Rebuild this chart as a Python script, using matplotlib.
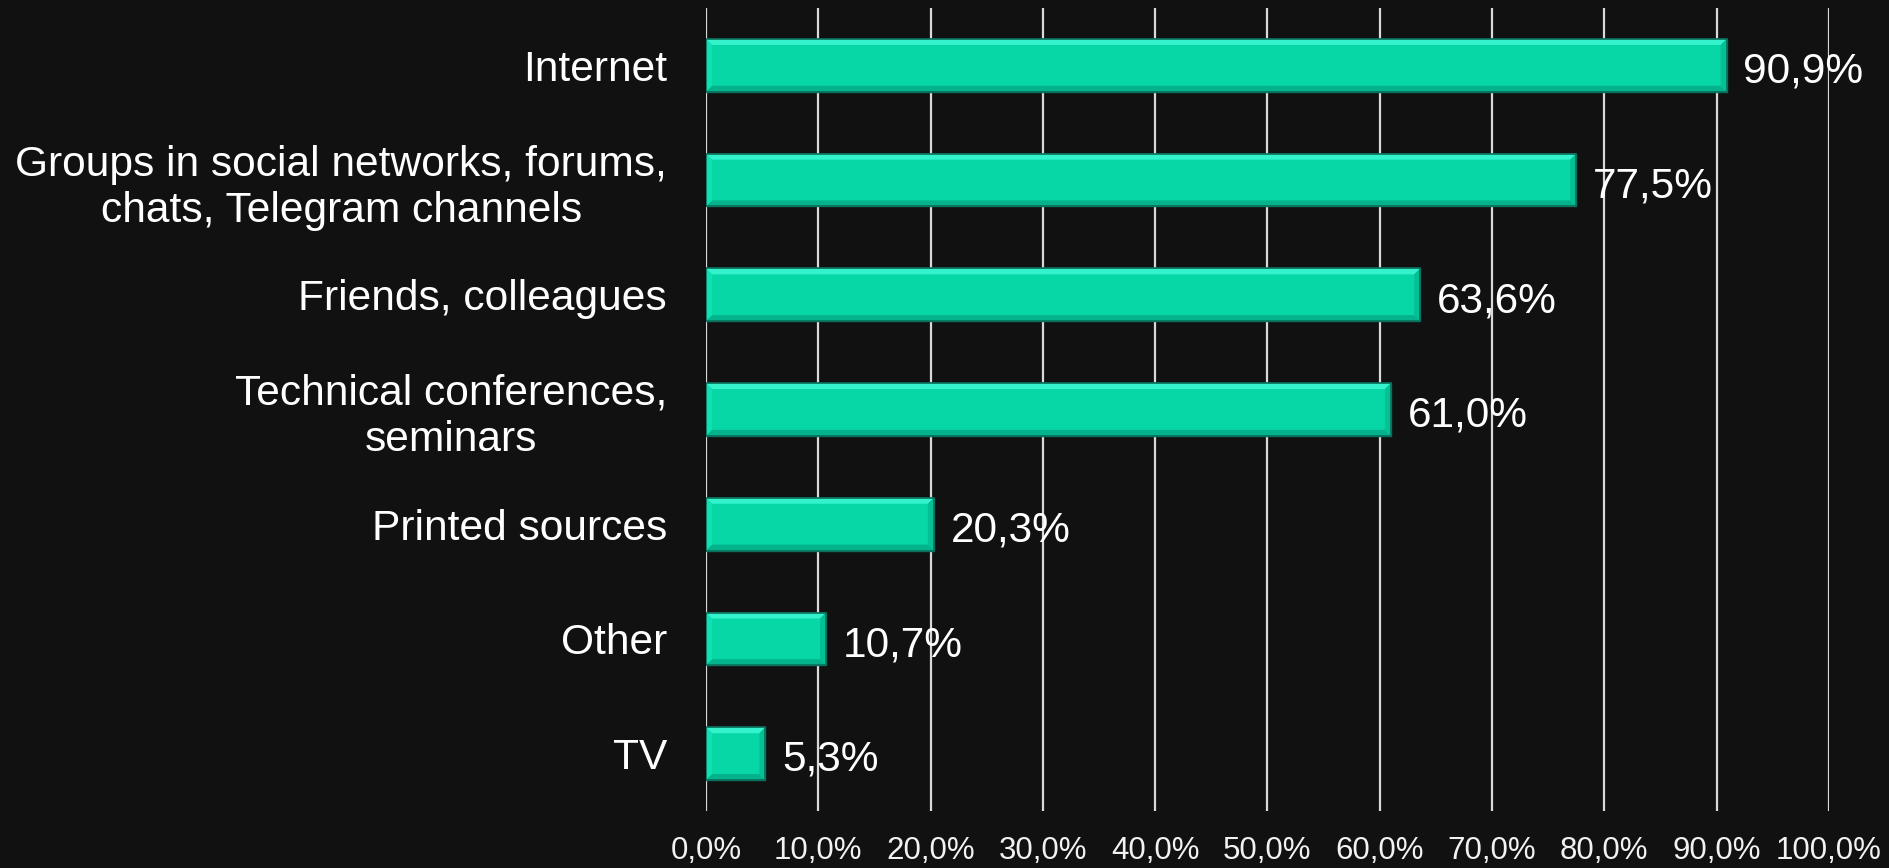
import numpy as np
import matplotlib
matplotlib.use("Agg")
import matplotlib.pyplot as plt
from matplotlib.patches import Polygon
from matplotlib.ticker import FuncFormatter

plt.rcParams['font.family'] = ['Liberation Sans', 'DejaVu Sans']

# sources of information, share of respondents (%)
categories = ["Internet",
              "Groups in social networks, forums,\nchats, Telegram channels",
              "Friends, colleagues",
              "Technical conferences,\nseminars",
              "Printed sources",
              "Other",
              "TV"]
values = [90.9, 77.5, 63.6, 61.0, 20.3, 10.7, 5.3]
xticks = np.arange(0, 101, 10)

bg = "#111111"
face = "#07d6a7"
top_c = "#33f2cc"
left_c = "#12dfb2"
right_c = "#05bf95"
bottom_c = "#04b28b"
edge_c = "#0a6f5b"

fig = plt.figure(figsize=(18.9, 8.68), dpi=100, facecolor=bg)
ax_l, ax_b, ax_w, ax_h = 0.3735, 0.0657, 0.5942, 0.9251
ax = fig.add_axes([ax_l, ax_b, ax_w, ax_h], facecolor=bg)

y = np.arange(len(categories))
bar_h = 0.46
ax.barh(y, values, height=bar_h, color=face, edgecolor=edge_c, linewidth=1, zorder=3)

# bevel widths, ~6 px converted to data units
bx = 6 * 100 / (ax_w * 1890)
by = 6 * 7 / (ax_h * 868)
for yi, v in zip(y, values):
    t, b = yi - bar_h / 2, yi + bar_h / 2
    bevels = [
        ([(0, t), (v, t), (v - bx, t + by), (bx, t + by)], top_c),
        ([(0, b), (v, b), (v - bx, b - by), (bx, b - by)], bottom_c),
        ([(0, t), (bx, t + by), (bx, b - by), (0, b)], left_c),
        ([(v, t), (v - bx, t + by), (v - bx, b - by), (v, b)], right_c),
    ]
    for pts, c in bevels:
        ax.add_patch(Polygon(pts, closed=True, facecolor=c, edgecolor='none', zorder=4))
    ax.add_patch(Polygon([(0, t), (v, t), (v, b), (0, b)], closed=True, fill=False,
                         edgecolor=edge_c, linewidth=1.2, zorder=5))
    ax.annotate(f"{v:.1f}%".replace('.', ','), (v, yi), xytext=(12, -12.5),
                textcoords='offset points', va='baseline', ha='left',
                fontsize=30.5, color='white', zorder=6)

ax.set_xlim(0, 100)
ax.set_ylim(6.5, -0.5)
ax.set_xticks(xticks)
ax.xaxis.set_major_formatter(FuncFormatter(lambda x, p: f"{x:.1f}%".replace('.', ',')))
ax.set_yticks(y)
ax.set_yticklabels(categories)
for lab in ax.get_yticklabels():
    lab.set_multialignment('center')
    lab.set_linespacing(1.2)

ax.tick_params(axis='y', length=0, pad=28, labelsize=30.6, labelcolor='white')
ax.tick_params(axis='x', length=0, pad=18, labelsize=22.5, labelcolor='#f2f2f2')
ax.grid(axis='x', color='#d9d9d9', linewidth=1.6, zorder=0)
ax.set_axisbelow(True)
for s in ax.spines.values():
    s.set_visible(False)

fig.savefig("out.png", dpi=100, facecolor=bg)
